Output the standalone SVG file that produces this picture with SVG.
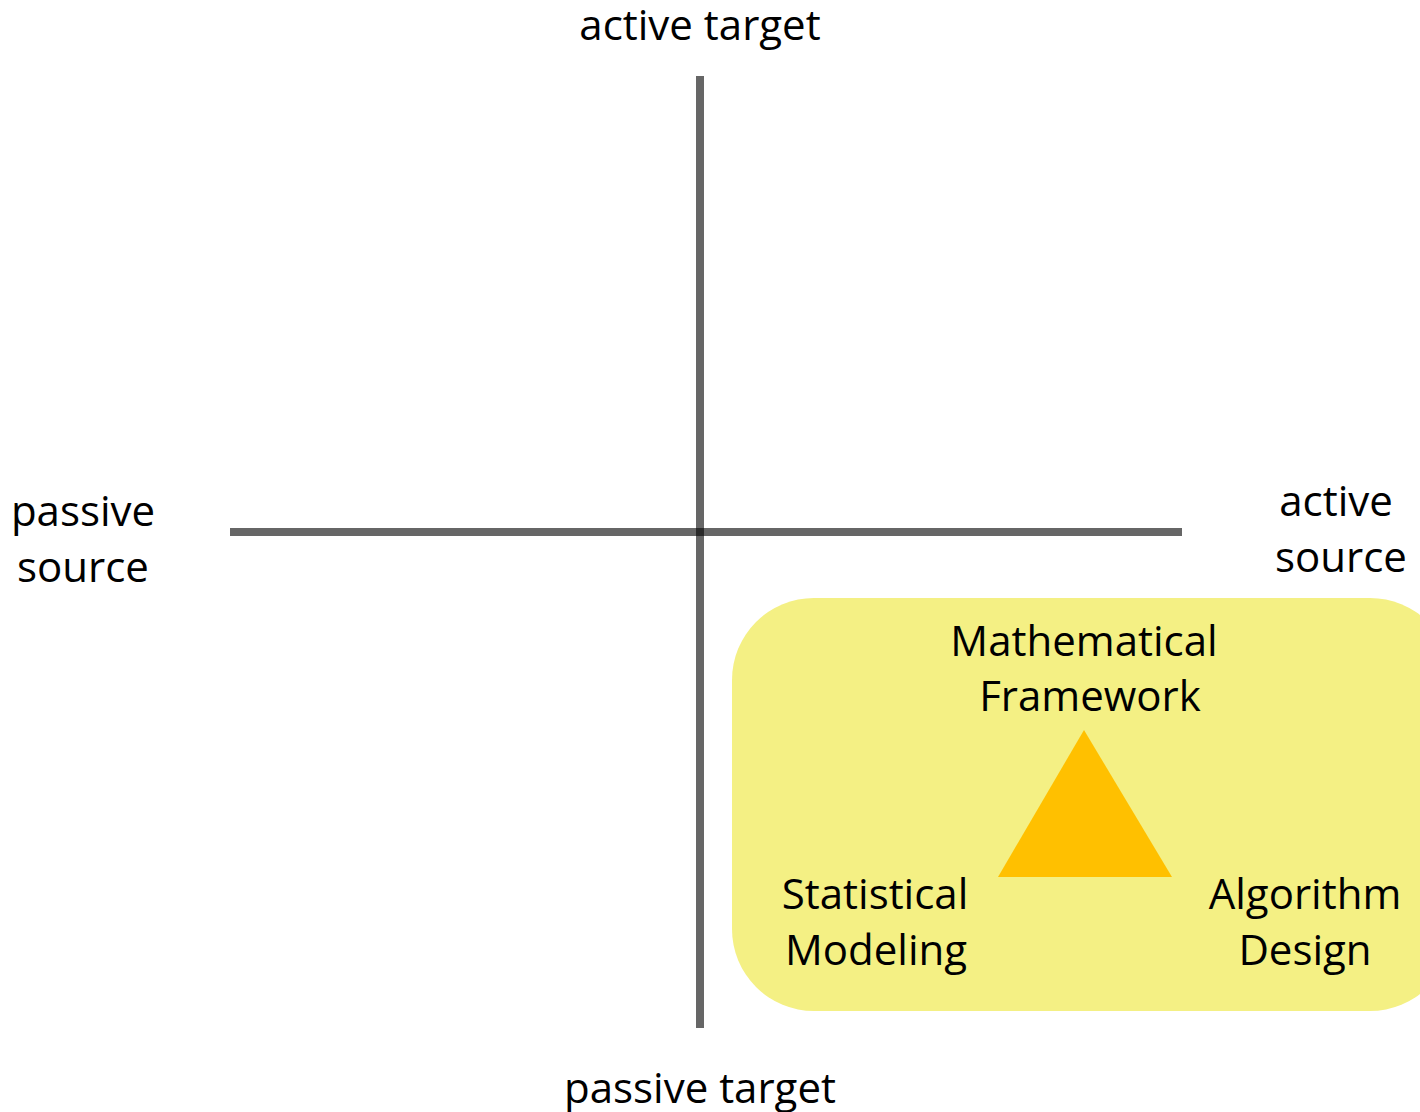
<svg xmlns="http://www.w3.org/2000/svg" width="1420" height="1112" viewBox="0 0 1420 1112">
<style>
text{font-family:"Open Sans","Liberation Sans",sans-serif;font-size:42px;fill:#000;text-anchor:middle}
.axis{stroke:#000;stroke-opacity:0.6;stroke-width:8;fill:none}
</style>
<rect width="1420" height="1112" fill="#fff"/>
<g id="axes">
<line class="axis" x1="700" y1="76" x2="700" y2="1028"/>
<line class="axis" x1="230" y1="532" x2="1182" y2="532"/>
</g>
<g id="label-active-target"><text x="700" y="40">active target</text></g>
<g id="label-passive-target"><text x="700" y="1103">passive target</text></g>
<g id="label-passive-source"><text x="83" y="526">passive</text><text x="83" y="582">source</text></g>
<g id="label-active-source"><text x="1336" y="516">active</text><text x="1341" y="572">source</text></g>
<g id="region">
<rect x="732" y="598" width="720" height="413" rx="82" ry="82" fill="#F4F084"/>
<polygon points="1084,730 998,877 1172,877" fill="#FFC000"/>
<text x="1084" y="656">Mathematical</text>
<text x="1090" y="711">Framework</text>
<text x="875" y="909">Statistical</text>
<text x="876" y="965">Modeling</text>
<text x="1305" y="909">Algorithm</text>
<text x="1305" y="965">Design</text>
</g>
</svg>
